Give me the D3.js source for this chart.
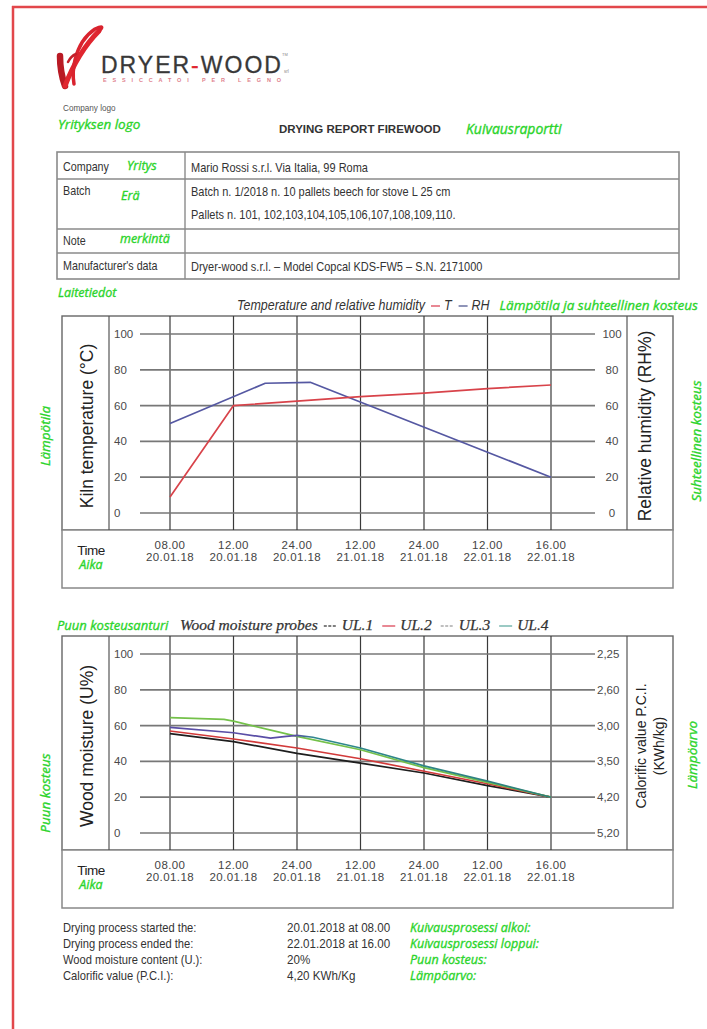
<!DOCTYPE html>
<html>
<head>
<meta charset="utf-8">
<script src="https://cdn.jsdelivr.net/npm/d3@7"></script>
<style>
  body { margin: 0; background: #fff; }
  svg { display: block; }
</style>
</head>
<body>
<div id="page"></div>
<script>
// asse dei tempi: etichette e ore dall'inizio (20.01.18 08.00)
const timeLabels = [
  ["08.00", "20.01.18"],
  ["12.00", "20.01.18"],
  ["24.00", "20.01.18"],
  ["12.00", "21.01.18"],
  ["24.00", "21.01.18"],
  ["12.00", "22.01.18"],
  ["16.00", "22.01.18"],
]
const timeHours = [0, 4, 16, 28, 40, 52, 56]

// temperatura forno e umidità relativa
const tempHours = [0, 4, 16, 28, 40, 52, 56]
const tempValues = [9, 60, 62.5, 65, 67, 69.5, 71.5]
const rhHours = [0, 10, 18.5, 56]
const rhValues = [50, 72.5, 73, 20]

const leftTicks = [0, 20, 40, 60, 80, 100]
const calorificLabels = ["5,20", "4,20", "3,50", "3,00", "2,60", "2,25"]

// sonde umidità legno
const probeNames = ["UL.1", "UL.2", "UL.3", "UL.4"]
const ul1Hours = [0, 4, 16, 28, 40, 52, 56]
const ul1Values = [55.5, 51, 44.5, 39, 33.5, 26.5, 20]
const ul2Hours = [0, 4, 16, 28, 40, 52, 56]
const ul2Values = [57, 52.5, 47.5, 41.5, 34.5, 27.5, 20]
const ul3Hours = [0, 4, 11, 14, 16, 19, 28, 40, 52, 56]
const ul3Values = [59, 56, 53, 54, 54.5, 53.5, 47.5, 37.5, 29, 20]
const ul4Hours = [0, 3.4, 4, 16, 28, 40, 52, 56]
const ul4Values = [64.5, 63.5, 62.5, 54, 46.5, 36.5, 28.3, 20]

// tabella intestazione
const tableLabels = ["Company", "Batch", "Note", "Manufacturer's data"]
const tableLabelsFi = ["Yritys", "Erä", "merkintä", ""]
const tableValues = [
  ["Mario Rossi s.r.l. Via Italia, 99   Roma"],
  ["Batch n. 1/2018 n. 10 pallets beech for stove L 25 cm", "Pallets n. 101, 102,103,104,105,106,107,108,109,110."],
  [""],
  ["Dryer-wood s.r.l. – Model Copcal KDS-FW5 – S.N. 2171000"],
]

// riepilogo finale
const summaryLabels = ["Drying process started the:", "Drying process ended the:", "Wood moisture content (U.):", "Calorific value (P.C.I.):"]
const summaryValues = ["20.01.2018 at 08.00", "22.01.2018 at 16.00", "20%", "4,20 KWh/Kg"]
const summaryFi = ["Kuivausprosessi alkoi:", "Kuivausprosessi loppui:", "Puun kosteus:", "Lämpöarvo:"]

const W = 707, H = 1029
const sans = "'Liberation Sans', Arial, sans-serif"
const serif = "'Liberation Serif', serif"
const greenFont = "'Open Sans', Lato, sans-serif"
const green = "#2bd42b"
const squeeze = 0.86 // testo "narrow"

const svg = d3.select("#page").append("svg")
  .attr("width", W).attr("height", H).attr("viewBox", `0 0 ${W} ${H}`)

svg.append("rect").attr("width", W).attr("height", H).attr("fill", "#fff")

function greenText(g, x, y, text, size = 13) {
  return g.append("text")
    .attr("x", x).attr("y", y)
    .attr("font-family", greenFont).attr("font-style", "italic")
    .attr("font-size", size).attr("fill", green)
    .attr("stroke", green).attr("stroke-width", 0.35)
    .text(text)
}

// testo grigio stretto (tipo Arial Narrow)
function grayText(g, x, y, text, size = 12, italic = false) {
  return g.append("text")
    .attr("transform", `translate(${x},${y}) scale(${squeeze},1)`)
    .attr("font-family", sans).attr("font-size", size).attr("fill", "#333")
    .attr("font-style", italic ? "italic" : null)
    .text(text)
}

// cornice rossa
svg.append("line").attr("x1", 12).attr("x2", W).attr("y1", 7).attr("y2", 7)
  .attr("stroke", "#e2474b").attr("stroke-width", 2.5)
svg.append("line").attr("x1", 13).attr("x2", 13).attr("y1", 6).attr("y2", H)
  .attr("stroke", "#e2474b").attr("stroke-width", 2.5)

// logo
const logo = svg.append("g")
logo.append("path").attr("d", "M60,56 Q60,72 65,86")
  .attr("fill", "none").attr("stroke", "#b91a24").attr("stroke-width", 6.5).attr("stroke-linecap", "round")
logo.append("path").attr("d", "M65,86 Q78,52 99,31")
  .attr("fill", "none").attr("stroke", "#e0262f").attr("stroke-width", 5).attr("stroke-linecap", "round")
logo.append("path").attr("d", "M99,31 Q106,24 95,29 Q80,39 75,60 Q72,72 74,84")
  .attr("fill", "none").attr("stroke", "#d9232e").attr("stroke-width", 3.5).attr("stroke-linecap", "round")
logo.append("path").attr("d", "M68,62 Q71,56 76,54")
  .attr("fill", "none").attr("stroke", "#c41f29").attr("stroke-width", 2.5).attr("stroke-linecap", "round")
const brand = logo.append("text").attr("x", 101).attr("y", 73)
  .attr("font-family", sans).attr("font-size", 23).attr("letter-spacing", 2).attr("fill", "#383838")
  .attr("stroke", "#383838").attr("stroke-width", 0.3)
brand.append("tspan").text("DRYER")
brand.append("tspan").attr("fill", "#e0262f").attr("stroke", "#e0262f").text("-")
brand.append("tspan").text("WOOD")
logo.append("text").attr("x", 103).attr("y", 82).attr("textLength", 178).attr("lengthAdjust", "spacing")
  .attr("font-family", sans).attr("font-weight", "bold").attr("font-size", 5.5).attr("fill", "#e0808c")
  .text("ESSICCATOI PER LEGNO")
logo.append("text").attr("x", 282).attr("y", 56).attr("font-family", sans).attr("font-size", 4).attr("fill", "#888").text("TM")
logo.append("text").attr("x", 284).attr("y", 73).attr("font-family", sans).attr("font-size", 4.5).attr("fill", "#888").text("srl")

grayText(svg, 63, 111, "Company logo", 9.5).attr("fill", "#555")
greenText(svg, 58, 129, "Yrityksen logo", 13.5)

svg.append("text").attr("x", 279).attr("y", 133)
  .attr("font-family", sans).attr("font-weight", "bold").attr("font-size", 11.5).attr("fill", "#333")
  .text("DRYING REPORT FIREWOOD")
greenText(svg, 466, 134, "Kuivausraportti", 14)

// tabella
const rowEdges = [152, 179, 229, 253, 279]
const table = svg.append("g")
table.append("rect").attr("x", 57).attr("y", rowEdges[0]).attr("width", 622).attr("height", rowEdges[4] - rowEdges[0])
  .attr("fill", "#fff").attr("stroke", "#8a8a8a").attr("stroke-width", 1.6)
table.selectAll(".rowline").data(rowEdges.slice(1, -1)).join("line")
  .attr("x1", 57).attr("x2", 679).attr("y1", d => d).attr("y2", d => d)
  .attr("stroke", "#8a8a8a").attr("stroke-width", 1.4)
table.append("line").attr("x1", 185).attr("x2", 185).attr("y1", rowEdges[0]).attr("y2", rowEdges[4])
  .attr("stroke", "#8a8a8a").attr("stroke-width", 1.4)
const labelBase = [171, 195, 245, 270]
const fiPos = [[127, 170], [121, 200], [120, 243]]
tableLabels.forEach((t, i) => {
  grayText(table, 63, labelBase[i], t, 12.5)
  if (tableLabelsFi[i]) greenText(table, fiPos[i][0], fiPos[i][1], tableLabelsFi[i], 12.5)
  tableValues[i].forEach((v, j) => grayText(table, 191, labelBase[i] + 1 + j * 23, v, 12.8))
})
greenText(svg, 58, 297, "Laitetiedot", 12.5)

// scala x comune: ore mappate sulle colonne equidistanti
const xIdx = d3.scalePoint().domain(d3.range(timeLabels.length)).range([170, 551])
const x = d3.scaleLinear().domain(timeHours).range(timeHours.map((d, i) => xIdx(i)))

function drawChart(top, cfg) {
  const g = svg.append("g")
  const plotBottom = top + 214
  const y = d3.scaleLinear().domain([0, 100]).range([top + 197, top + 18])

  g.append("rect").attr("x", 62).attr("y", top).attr("width", 611).attr("height", 214)
    .attr("fill", "#fff").attr("stroke", "#666").attr("stroke-width", 1.4)
  g.append("rect").attr("x", 62).attr("y", plotBottom).attr("width", 611).attr("height", 58)
    .attr("fill", "#fff").attr("stroke", "#888").attr("stroke-width", 1.5)

  // separatori
  g.selectAll(".sep").data([109, 627]).join("line")
    .attr("x1", d => d).attr("x2", d => d).attr("y1", top).attr("y2", plotBottom)
    .attr("stroke", "#555").attr("stroke-width", 1.2)

  // griglia verticale
  g.selectAll(".vgrid").data(timeHours).join("line")
    .attr("x1", d => x(d)).attr("x2", d => x(d)).attr("y1", top).attr("y2", plotBottom)
    .attr("stroke", "#3a3a3a").attr("stroke-width", 1.2)

  // griglia orizzontale
  g.selectAll(".hgrid").data(leftTicks).join("line")
    .attr("x1", 140).attr("x2", 595).attr("y1", d => y(d)).attr("y2", d => y(d))
    .attr("stroke", "#777").attr("stroke-width", 1.7)

  g.selectAll(".ltick").data(leftTicks).join("text")
    .attr("x", 114).attr("y", d => y(d)).attr("dy", "0.35em")
    .attr("font-family", sans).attr("font-size", 11.5).attr("fill", "#4a4a4a")
    .text(d => d)
  g.selectAll(".rtick").data(leftTicks).join("text")
    .attr("x", cfg.rightAnchor === "start" ? 597 : 612).attr("y", d => y(d)).attr("dy", "0.35em")
    .attr("text-anchor", cfg.rightAnchor)
    .attr("font-family", sans).attr("font-size", 11.5).attr("fill", "#4a4a4a")
    .text((d, i) => cfg.rightFormat(d, i))

  // titoli assi
  g.append("text").attr("transform", `translate(87,${top + 110}) rotate(-90)`)
    .attr("text-anchor", "middle").attr("dy", "0.35em")
    .attr("font-family", sans).attr("font-size", 17.5).attr("fill", "#222")
    .text(cfg.leftTitle)
  cfg.rightTitle.forEach((t, i) => {
    g.append("text").attr("transform", `translate(${cfg.rightTitleX[i]},${top + 110}) rotate(-90)`)
      .attr("text-anchor", "middle").attr("dy", "0.35em")
      .attr("font-family", sans).attr("font-size", cfg.rightTitleSize).attr("fill", "#222")
      .text(t)
  })

  // etichette tempo
  const tl = g.selectAll(".tlabel").data(timeLabels).join("text")
    .attr("text-anchor", "middle")
    .attr("font-family", sans).attr("font-size", 11.5).attr("letter-spacing", 0.4).attr("fill", "#444")
  tl.append("tspan").attr("x", (d, i) => x(timeHours[i])).attr("y", plotBottom + 19).text(d => d[0])
  tl.append("tspan").attr("x", (d, i) => x(timeHours[i])).attr("y", plotBottom + 31).text(d => d[1])
  g.append("text").attr("x", 91).attr("y", plotBottom + 25).attr("text-anchor", "middle")
    .attr("font-family", sans).attr("font-size", 13.5).attr("letter-spacing", -0.5).attr("fill", "#222")
    .text("Time")
  greenText(g, 91, plotBottom + 39, "Aika", 12.5).attr("text-anchor", "middle")

  // serie
  const line = d3.line().x(d => x(d[0])).y(d => y(d[1]))
  cfg.series.forEach(s => {
    g.append("path").datum(d3.zip(s.hours, s.values))
      .attr("d", line).attr("fill", "none")
      .attr("stroke", s.color).attr("stroke-width", 1.7).attr("stroke-linejoin", "round")
  })
  return g
}

// grafico 1
drawChart(316, {
  leftTitle: "Kiln temperature (°C)",
  rightTitle: ["Relative humidity (RH%)"],
  rightTitleX: [645],
  rightTitleSize: 17.5,
  rightAnchor: "middle",
  rightFormat: d => d,
  series: [
    { hours: rhHours, values: rhValues, color: "#5558a2" },
    { hours: tempHours, values: tempValues, color: "#d8434a" },
  ],
})

// gradiente per UL.3 (viola, poi verde acqua dove si sovrappone)
const defs = svg.append("defs")
const grad = defs.append("linearGradient").attr("id", "ul3grad")
  .attr("gradientUnits", "userSpaceOnUse").attr("x1", 170).attr("x2", 551).attr("y1", 0).attr("y2", 0)
grad.append("stop").attr("offset", 0).attr("stop-color", "#5a4ea6")
grad.append("stop").attr("offset", 0.33).attr("stop-color", "#5a4ea6")
grad.append("stop").attr("offset", 0.38).attr("stop-color", "#2e8a8e")
grad.append("stop").attr("offset", 1).attr("stop-color", "#2e7f7a")

drawChart(636, {
  leftTitle: "Wood moisture (U%)",
  rightTitle: ["Calorific value P.C.I.", "(KWh/kg)"],
  rightTitleX: [641, 659],
  rightTitleSize: 14,
  rightAnchor: "start",
  rightFormat: (d, i) => calorificLabels[i],
  series: [
    { hours: ul1Hours, values: ul1Values, color: "#1e1e1e" },
    { hours: ul2Hours, values: ul2Values, color: "#d23a3a" },
    { hours: ul4Hours, values: ul4Values, color: "#74c14a" },
    { hours: ul3Hours, values: ul3Values, color: "url(#ul3grad)" },
  ],
})

// legenda grafico 1 (testo stretto corsivo)
const lg1 = svg.append("g")
let cx = 237
const ly1 = 310
function narrowLeg(g, xx, yy, t, size) {
  const el = grayText(g, xx, yy, t, size, true)
  return el.node().getComputedTextLength() * squeeze
}
cx += narrowLeg(lg1, cx, ly1, "Temperature and relative humidity", 14.5) + 6
lg1.append("line").attr("x1", cx).attr("x2", cx + 9).attr("y1", ly1 - 4).attr("y2", ly1 - 4).attr("stroke", "#e06070").attr("stroke-width", 1.5)
cx += 13
cx += narrowLeg(lg1, cx, ly1, "T", 14.5) + 7
lg1.append("line").attr("x1", cx).attr("x2", cx + 9).attr("y1", ly1 - 4).attr("y2", ly1 - 4).attr("stroke", "#6a70a0").attr("stroke-width", 1.5)
cx += 13
cx += narrowLeg(lg1, cx, ly1, "RH", 14.5) + 10
greenText(lg1, cx, ly1, "Lämpötila ja suhteellinen kosteus", 13.5)

// legenda grafico 2
const lg2 = svg.append("g")
const ly2 = 630
greenText(lg2, 57, ly2, "Puun kosteusanturi", 13)
let cx2 = 180
const legendColors = ["#555", "#e06070", "#aaa", "#7ab8b0"]
const legendDash = ["3,1.5", null, "3,1.5", null]
function serifLeg(g, xx, yy, t) {
  const el = g.append("text").attr("x", xx).attr("y", yy)
    .attr("font-family", serif).attr("font-style", "italic").attr("font-size", 15.5)
    .attr("fill", "#333").attr("stroke", "#333").attr("stroke-width", 0.25).text(t)
  return el.node().getComputedTextLength()
}
cx2 += serifLeg(lg2, cx2, ly2, "Wood moisture probes") + 6
probeNames.forEach((n, i) => {
  lg2.append("line").attr("x1", cx2).attr("x2", cx2 + 13).attr("y1", ly2 - 4).attr("y2", ly2 - 4)
    .attr("stroke", legendColors[i]).attr("stroke-width", 1.5).attr("stroke-dasharray", legendDash[i])
  cx2 += 18
  cx2 += serifLeg(lg2, cx2, ly2, n) + 9
})

// etichette verdi ruotate
function greenRotated(xx, yy, t) {
  svg.append("text").attr("transform", `translate(${xx},${yy}) rotate(-90)`)
    .attr("text-anchor", "middle").attr("dy", "0.35em")
    .attr("font-family", greenFont).attr("font-style", "italic").attr("font-size", 13.5).attr("fill", green)
    .attr("stroke", green).attr("stroke-width", 0.35)
    .text(t)
}
greenRotated(45, 436, "Lämpötila")
greenRotated(696, 441, "Suhteellinen kosteus")
greenRotated(45, 793, "Puun kosteus")
greenRotated(692, 755, "Lämpöarvo")

// riepilogo
const sum = svg.append("g")
summaryLabels.forEach((t, i) => {
  const yy = 932 + i * 16
  grayText(sum, 63, yy, t, 13)
  grayText(sum, 287, yy, summaryValues[i], 13.5)
  greenText(sum, 410, yy, summaryFi[i], 12.5)
})
</script>
</body>
</html>
